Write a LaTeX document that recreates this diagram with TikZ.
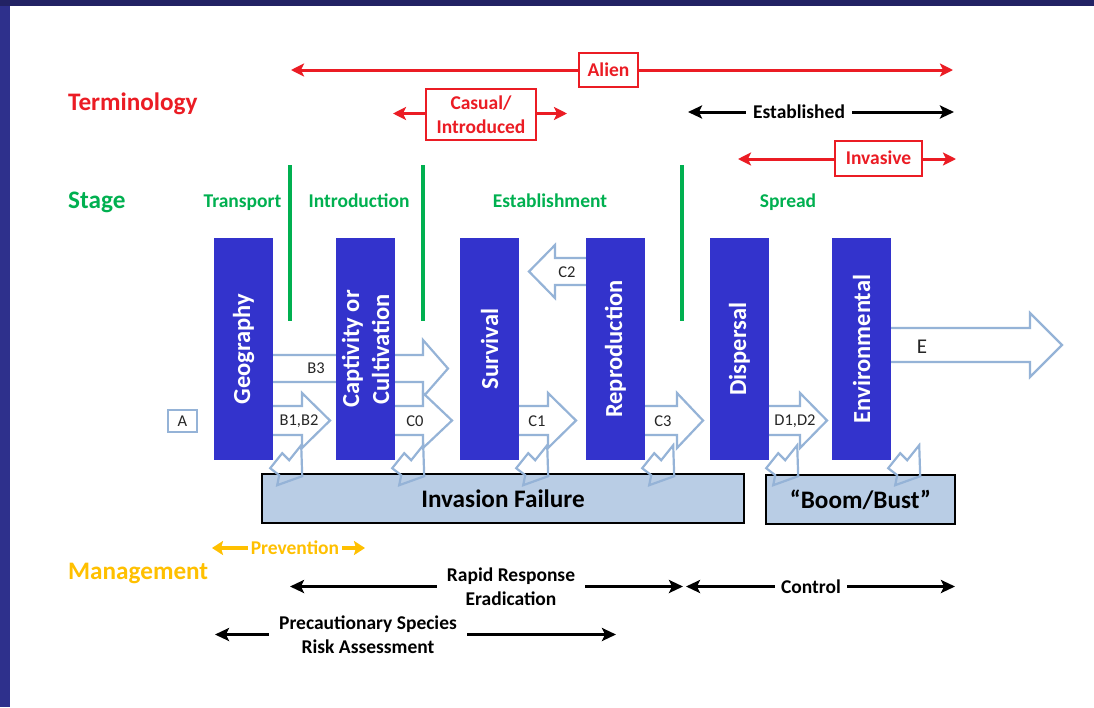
\documentclass[tikz,border=0pt]{standalone}
\usepackage{fontspec}
\setmainfont{Carlito}
\usetikzlibrary{arrows.meta}
\definecolor{navyA}{RGB}{34,34,100}
\definecolor{navyB}{RGB}{46,48,140}
\definecolor{barblue}{RGB}{51,51,204}
\definecolor{outl}{RGB}{149,179,215}
\definecolor{boxfill}{RGB}{185,205,229}
\definecolor{tred}{RGB}{235,28,36}
\definecolor{sgreen}{RGB}{0,176,80}
\definecolor{mgold}{RGB}{255,192,0}
\newcommand{\blockar}[6]{\draw[barrow] (#1,#4-#5) -- (#2,#4-#5) -- (#2,#4-#6) -- (#3,#4) -- (#2,#4+#6) -- (#2,#4+#5) -- (#1,#4+#5) -- cycle;}
\newcommand{\failar}[1]{\draw[barrow, fill=none, shift={(#1)}] (28,-15) -- (29,16) -- (4,25) -- (6,15) -- (-3,8) -- (9,-7) -- (16,0) -- cycle;}
\tikzset{
 lab/.style={inner sep=0pt},
 big/.style={lab, font=\bfseries\fontsize{25.2}{30}\selectfont},
 mid/.style={lab, font=\bfseries\fontsize{19.5}{24}\selectfont},
 small/.style={lab, font=\fontsize{16.5}{20}\selectfont, text=black!85},
 bar/.style={fill=barblue, minimum width=59pt, minimum height=222pt, inner sep=0pt},
 bartext/.style={lab, rotate=90, text=white, align=center, font=\bfseries\fontsize{24.5}{30}\selectfont},
 barrow/.style={draw=outl, line width=2.2pt, fill=white, line join=miter},
 termbox/.style={mid, draw=tred, line width=2pt, fill=white, text=tred, align=center},
 redarr/.style={draw=tred, line width=3pt, {Stealth[length=13pt,width=13pt,inset=3pt]}-{Stealth[length=13pt,width=13pt,inset=3pt]}},
 blkarr/.style={draw=black, line width=3pt, -{Stealth[length=14pt,width=13pt,inset=3pt]}},
 blkarr2/.style={draw=black, line width=3pt, {Stealth[length=14pt,width=13pt,inset=3pt]}-{Stealth[length=14pt,width=13pt,inset=3pt]}},
 goldarr/.style={draw=mgold, line width=3.5pt, -{Stealth[length=11pt,width=14pt,inset=2pt]}},
 sline/.style={draw=sgreen, line width=4pt},
 failbox/.style={big, draw=black, line width=2.5pt, fill=boxfill, minimum height=49pt},
}
\begin{document}
\begin{tikzpicture}[x=1pt,y=-1pt]
\useasboundingbox (0,0) rectangle (1094,707);
\fill[navyA] (0,0) rectangle (1094,707);
\fill[navyB] (0,6) rectangle (10,707);
\fill[white] (10,6) rectangle (1094,707);

% Row labels
\node[big, text=tred, anchor=base west] (term) at (68,110) {Terminology};
\node[big, text=sgreen, anchor=base west] (stage) at (68,208) {Stage};
\node[big, text=mgold, anchor=base west] (mgmt) at (68,579) {Management};

% Terminology
\coordinate (alL) at (291,70); \coordinate (alR) at (953,70);
\draw[redarr] (alL) -- (alR);
\node[termbox, minimum width=59pt, minimum height=34pt] (alien) at (608.5,70) {Alien};
\coordinate (caL) at (393,113.5); \coordinate (caR) at (567,113.5);
\draw[redarr] (caL) -- (caR);
\node[termbox, minimum width=110pt, minimum height=51pt] (casual) at (481,114.5) {Casual/\\Introduced};
\coordinate (esL) at (688,112); \coordinate (esR) at (954,112);
\draw[blkarr2] (esL) -- (esR);
\node[mid, fill=white, inner xsep=7pt, inner ysep=2pt] (est) at (799,112) {Established};
\coordinate (inL) at (738,159); \coordinate (inR) at (956,159);
\draw[redarr] (inL) -- (inR);
\node[termbox, minimum width=87pt, minimum height=35pt] (inv) at (878.5,158) {Invasive};

% Stage
\draw[sline] (290,165) -- (290,321);
\draw[sline] (423,165) -- (423,321);
\draw[sline] (682,165) -- (682,321);
\node[mid, text=sgreen, anchor=base] (sTr) at (242.5,207) {Transport};
\node[mid, text=sgreen, anchor=base] (sIn) at (359,207) {Introduction};
\node[mid, text=sgreen, anchor=base] (sEs) at (550,207) {Establishment};
\node[mid, text=sgreen, anchor=base] (sSp) at (788,207) {Spread};

% Block arrows (behind bars)
\blockar{260}{423}{448}{368.5}{13.5}{28.5}
\blockar{260}{302}{330}{420.5}{14.5}{27.5}
\blockar{385}{423}{452}{420.5}{14.5}{27.5}
\blockar{505}{548}{576}{420.5}{14.5}{27.5}
\blockar{630}{677}{703}{420.5}{14.5}{27.5}
\blockar{755}{800}{827}{420.5}{14.5}{27.5}
\blockar{600}{555}{529}{271.5}{13.5}{26.5}
\blockar{880}{1030}{1062}{345}{17}{32}

% Bars
\node[bar] (geo) at (243.5,349) {};
\node[bar] (cap) at (365.5,349) {};
\node[bar] (sur) at (489.5,349) {};
\node[bar] (rep) at (615.5,349) {};
\node[bar] (dis) at (739.5,349) {};
\node[bar] (env) at (861.5,349) {};
\node[bartext] (geoT) at (geo) {Geography};
\node[bartext] (capT) at (cap) {Captivity or\\Cultivation};
\node[bartext] (surT) at (sur) {Survival};
\node[bartext] (repT) at (rep) {Reproduction};
\node[bartext] (disT) at (dis) {Dispersal};
\node[bartext] (envT) at (env) {Environmental};

% Arrow labels
\node[small] (lB3) at (316,368.5) {B3};
\node[small] (lB12) at (299,421) {B1,B2};
\node[small] (lC0) at (415,421) {C0};
\node[small] (lC1) at (537,421) {C1};
\node[small] (lC3) at (663,421) {C3};
\node[small] (lD12) at (795,421) {D1,D2};
\node[small] (lC2) at (567,272) {C2};
\node[small, font=\fontsize{21}{25}\selectfont] (lE) at (922,347) {E};
\node[small, draw=outl, line width=2pt, minimum width=29pt, minimum height=22pt] (A) at (182.5,421) {A};

% Outcome boxes
\node[failbox, minimum width=482pt] (fail) at (503,498.5) {Invasion Failure};
\node[failbox, minimum width=189pt] (boom) at (860.5,499.5) {“Boom/Bust”};

% Failure arrows
\failar{geo.south east}
\failar{cap.south east}
\failar{sur.south east}
\failar{rep.south east}
\failar{dis.south east}
\failar{env.south east}

% Management
\node[mid, text=mgold, inner xsep=3pt] (prev) at (295,548) {Prevention};
\coordinate (pvL) at (212,548); \coordinate (pvR) at (365,548);
\draw[goldarr] (prev.west) -- (pvL);
\draw[goldarr] (prev.east) -- (pvR);

\node[mid, align=center, inner xsep=10pt] (rr) at (511,586.5) {Rapid Response\\Eradication};
\coordinate (rrL) at (290,586.5); \coordinate (rrR) at (683,586.5);
\draw[blkarr] (rr.west) -- (rrL);
\draw[blkarr] (rr.east) -- (rrR);

\node[mid, inner xsep=6pt] (ctl) at (811,586.5) {Control};
\coordinate (ctL) at (686,586.5); \coordinate (ctR) at (955,586.5);
\draw[blkarr] (ctl.west) -- (ctL);
\draw[blkarr] (ctl.east) -- (ctR);

\node[mid, align=center, inner xsep=10pt] (pr) at (368,634.5) {Precautionary Species\\Risk Assessment};
\coordinate (prL) at (215,634.5); \coordinate (prR) at (616,634.5);
\draw[blkarr] (pr.west) -- (prL);
\draw[blkarr] (pr.east) -- (prR);
\end{tikzpicture}
\end{document}
